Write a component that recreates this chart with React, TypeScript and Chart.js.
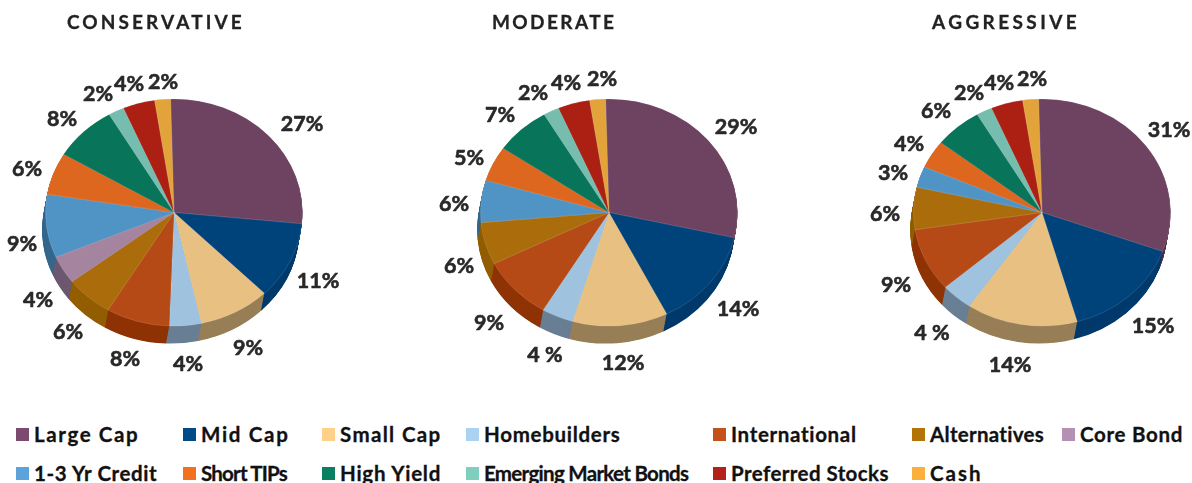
import React, { useEffect, useRef } from "react";
import { Chart, registerables } from "chart.js";

Chart.register(...registerables);

const categories = ["Large Cap","Mid Cap","Small Cap","Homebuilders","International","Alternatives","Core Bond","1-3 Yr Credit","Short TIPs","High Yield","Emerging Market Bonds","Preferred Stocks","Cash"];
const conservative = [27,11,9,4,8,6,4,9,6,8,2,4,2];
const moderate = [29,14,12,4,9,6,0,6,5,7,2,4,2];
const aggressive = [31,15,14,4,9,6,0,3,4,6,2,4,2];
const conservativeLabels = ["27%","11%","9%","4%","8%","6%","4%","9%","6%","8%","2%","4%","2%"];
const moderateLabels = ["29%","14%","12%","4 %","9%","6%","","6%","5%","7%","2%","4%","2%"];
const aggressiveLabels = ["31%","15%","14%","4 %","9%","6%","","3%","4%","6%","2%","4%","2%"];
const titles = ["CONSERVATIVE","MODERATE","AGGRESSIVE"];

const faceColors = ["#6E4361","#00437B","#E7C082","#9FC3DF","#B64A16","#AB6C0C","#A5849F","#5094C6","#DD671F","#08755A","#76BDAF","#AB2013","#E3A33B"];
const sideColors = ["#4F3046","#003A6C","#987F57","#697F94","#8F3305","#925E00","#6B5870","#34688C","#A34C17","#055541","#558A80","#7D170E","#A67729"];
const legendColors = ["#7B4A6E","#004A87","#FFD08A","#ABD2F0","#C5511A","#B27407","#B490B3","#5BA3DA","#F37021","#0A7F61","#80CFBE","#B42118","#FBB03B"];

// Layout only
const SIZE = 390, RADIUS = 128.5, SQUASH = 0.884, DEPTH_X = -3.3, DEPTH_Y = 17.5;
const centersX = [174, 609, 1042];
const CANVAS_TOP = 17;
const labelOffsets = [
  [[128,-88],[144,69],[74,136],[14,152],[-49,147],[-106,120],[-136,88],[-152,32],[-147,-43],[-112,-93],[-76,-118],[-45,-128],[-11,-130]],
  [[127,-85],[129,97],[14,151],[-64,143],[-120,111],[-150,54],[0,0],[-155,-8],[-140,-54],[-109,-97],[-76,-119],[-43,-129],[-7,-133]],
  [[127,-82],[111,114],[-32,153],[-110,121],[-146,73],[-157,2],[0,0],[-149,-39],[-133,-68],[-106,-101],[-73,-119],[-43,-129],[-10,-133]],
];
const titleBoxes = [[67,3.1],[492,2.4],[932,3.4]];
const legendRows = [434, 473];
const legendSlots = [
  [16,0,0,1.6],[183,0,1,1.7],[322,0,2,1.35],[466,0,3,0.7],[713,0,4,0.67],[912,0,5,0.3],[1062,0,6,0.7],
  [16,1,7,0.6],[183,1,8,-0.8],[322,1,9,0.75],[466,1,10,-0.7],[713,1,11,0.42],[912,1,12,2],
];
const FONT = "'Lato', 'Open Sans', sans-serif";

const pie3d = {
  id: "pie3d",
  beforeDatasetDraw(chart: any) {
    const ctx = chart.ctx;
    const arcs = chart.getDatasetMeta(0).data;
    const cx = arcs[0].x, cy = arcs[0].y;
    ctx.save();
    ctx.translate(cx, cy);
    ctx.scale(1, SQUASH);
    ctx.translate(-cx, -cy);
    const steps = 35;
    for (let s = steps; s >= 1; s--) {
      const f = s / steps;
      arcs.forEach((a: any, i: number) => {
        if (a.endAngle - a.startAngle <= 0) return;
        ctx.fillStyle = sideColors[i];
        ctx.beginPath();
        ctx.moveTo(a.x + DEPTH_X * f, a.y + (DEPTH_Y * f) / SQUASH);
        ctx.arc(a.x + DEPTH_X * f, a.y + (DEPTH_Y * f) / SQUASH, a.outerRadius, a.startAngle, a.endAngle);
        ctx.closePath();
        ctx.fill();
      });
    }
  },
  afterDatasetDraw(chart: any) {
    chart.ctx.restore();
  },
  afterDatasetsDraw(chart: any, _a: any, opts: any) {
    const ctx = chart.ctx;
    const arcs = chart.getDatasetMeta(0).data;
    const cx = arcs[0].x, cy = arcs[0].y;
    ctx.save();
    ctx.font = `700 21.5px ${FONT}`;
    ctx.fillStyle = "#2A2829";
    ctx.strokeStyle = "#2A2829";
    ctx.lineWidth = 0.6;
    ctx.lineJoin = "round";
    ctx.textAlign = "center";
    ctx.textBaseline = "middle";
    opts.labels.forEach((t: string, i: number) => {
      if (!t) return;
      ctx.fillText(t, cx + opts.offsets[i][0], cy + opts.offsets[i][1]);
      ctx.strokeText(t, cx + opts.offsets[i][0], cy + opts.offsets[i][1]);
    });
    ctx.restore();
  },
};

function Pie({ values, labels, index }: { values: number[]; labels: string[]; index: number }) {
  const ref = useRef<HTMLCanvasElement>(null);
  useEffect(() => {
    const chart = new Chart(ref.current!, {
      type: "pie",
      data: {
        labels: categories,
        datasets: [{ data: values, backgroundColor: faceColors, borderColor: "rgba(255,255,255,0.22)", borderWidth: 0.6 }],
      },
      options: {
        animation: false,
        responsive: false,
        devicePixelRatio: 1,
        rotation: -1.5,
        radius: RADIUS,
        layout: { padding: 0 },
        plugins: {
          legend: { display: false },
          title: { display: false },
          tooltip: { enabled: false },
          pie3d: { labels, offsets: labelOffsets[index] },
        },
      } as any,
      plugins: [pie3d],
    });
    return () => chart.destroy();
  }, []);
  return (
    <canvas
      ref={ref}
      width={SIZE}
      height={SIZE + 1}
      style={{ position: "absolute", left: centersX[index] - SIZE / 2, top: CANVAS_TOP, width: SIZE, height: SIZE + 1 }}
    />
  );
}

export default function App() {
  return (
    <div style={{ position: "fixed", left: 0, top: 0, width: 1192, height: 483, overflow: "hidden", background: "#fff", fontFamily: FONT }}>
      <Pie values={conservative} labels={conservativeLabels} index={0} />
      <Pie values={moderate} labels={moderateLabels} index={1} />
      <Pie values={aggressive} labels={aggressiveLabels} index={2} />
      {titles.map((t, i) => (
        <div key={t} style={{ position: "absolute", left: titleBoxes[i][0], top: 10, lineHeight: "24px", fontSize: 19, fontWeight: 700, letterSpacing: titleBoxes[i][1], color: "#222", whiteSpace: "nowrap", WebkitTextStroke: "0.3px #222" }}>
          {t}
        </div>
      ))}
      {legendSlots.map(([x, row, c, spacing]) => (
        <React.Fragment key={c}>
          <div style={{ position: "absolute", left: x, top: legendRows[row] - 6, width: 13, height: 13, background: legendColors[c] }} />
          <div style={{ position: "absolute", left: x + 18, top: legendRows[row] - 12, lineHeight: "24px", fontSize: 20.5, fontWeight: 700, letterSpacing: spacing, color: "#111", whiteSpace: "nowrap", WebkitTextStroke: "0.3px #111" }}>
            {categories[c]}
          </div>
        </React.Fragment>
      ))}
    </div>
  );
}
